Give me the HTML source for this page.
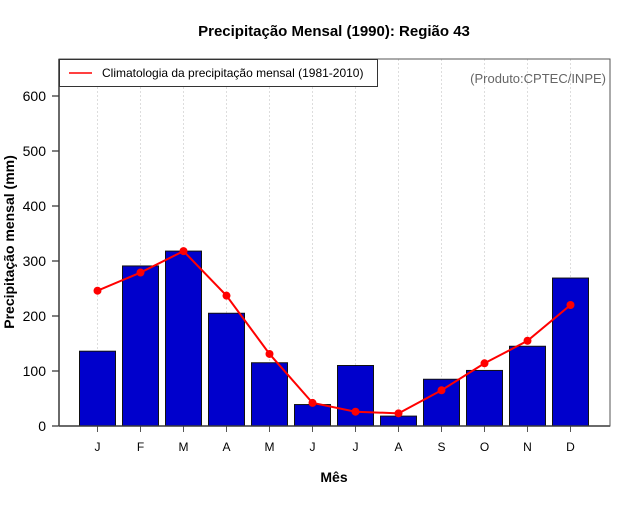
<!DOCTYPE html>
<html><head><meta charset="utf-8"><style>
body{margin:0;background:#fff;}
svg text{font-family:"Liberation Sans",sans-serif;}
</style></head><body>
<svg id="chart" width="640" height="500" xmlns="http://www.w3.org/2000/svg">
<rect width="640" height="500" fill="#fff"/>
<text x="334" y="36" text-anchor="middle" font-size="15" font-weight="bold">Precipitação Mensal (1990): Região 43</text>
<g id="grid"></g>
<g id="bars"></g>
<g id="line"></g>
<g id="axes"></g>
<rect x="59" y="59" width="551" height="367" fill="none" stroke="#555" stroke-width="1"/>
<g>
<rect x="59.5" y="59.5" width="318" height="27" fill="#fff" stroke="#333" stroke-width="1"/>
<line x1="69" y1="73" x2="92" y2="73" stroke="red" stroke-width="1.5"/>
<text x="102" y="77" font-size="12">Climatologia da precipitação mensal (1981-2010)</text>
</g>
<text x="606" y="83" text-anchor="end" font-size="13" fill="#666">(Produto:CPTEC/INPE)</text>
<text x="334" y="482" text-anchor="middle" font-size="14" font-weight="bold">Mês</text>
<text transform="translate(14,242) rotate(-90)" text-anchor="middle" font-size="14" font-weight="bold">Precipitação mensal (mm)</text>
</svg>
<script>
const months = ["J","F","M","A","M","J","J","A","S","O","N","D"];
const precip = [136, 291, 318, 205, 115, 39, 110, 18, 85, 101, 145, 269];
const climatology = [246, 279, 318, 237, 131, 42, 26, 23, 65, 114, 155, 220];
const yTicks = [0, 100, 200, 300, 400, 500, 600];

const NS = "http://www.w3.org/2000/svg";
function yPos(v){ return 426 - v * 0.55; }
function xPos(i){ return 97.5 + i * 43; }
function mk(tag, attrs, parent){
  const e = document.createElementNS(NS, tag);
  for (const k in attrs) e.setAttribute(k, attrs[k]);
  parent.appendChild(e);
  return e;
}
const grid = document.getElementById("grid");
const bars = document.getElementById("bars");
const line = document.getElementById("line");
const axes = document.getElementById("axes");

months.forEach((m, i) => {
  const g = mk("line", {x1: xPos(i), x2: xPos(i), y1: 59, y2: 426, stroke: "#ddd", "stroke-dasharray": "2,2"}, grid);
  
  
  const b = mk("rect", {x: xPos(i) - 18, y: yPos(precip[i]), width: 36, height: 426 - yPos(precip[i]), fill: "#0000cc", stroke: "#111", "stroke-width": 1}, bars);
  
  
  const t = mk("line", {x1: xPos(i), x2: xPos(i), y1: 426, y2: 432, stroke: "#555"}, axes);
  
  
  const l = mk("text", {x: xPos(i), y: 451, "text-anchor": "middle", "font-size": 12}, axes);
  l.textContent = m;
  
  
});
const pts = climatology.map((v, i) => xPos(i) + "," + yPos(v)).join(" ");
const pl = mk("polyline", {points: pts, fill: "none", stroke: "red", "stroke-width": 2}, line);


climatology.forEach((v, i) => {
  const c = mk("circle", {cx: xPos(i), cy: yPos(v), r: 4, fill: "red"}, line);
  
  
});
yTicks.forEach(v => {
  const t = mk("line", {x1: 52, x2: 59, y1: yPos(v), y2: yPos(v), stroke: "#000"}, axes);
  
  
  const l = mk("text", {x: 46, y: yPos(v) + 5, "text-anchor": "end", "font-size": 14}, axes);
  l.textContent = v;
  
  
});
const ax = mk("line", {x1: 59, x2: 59, y1: 59, y2: 426, stroke: "#000", "stroke-width": 1.5}, axes);


const bx = mk("line", {x1: 59, x2: 610, y1: 426, y2: 426, stroke: "#000", "stroke-width": 1.5}, axes);


</script>
</body></html>
